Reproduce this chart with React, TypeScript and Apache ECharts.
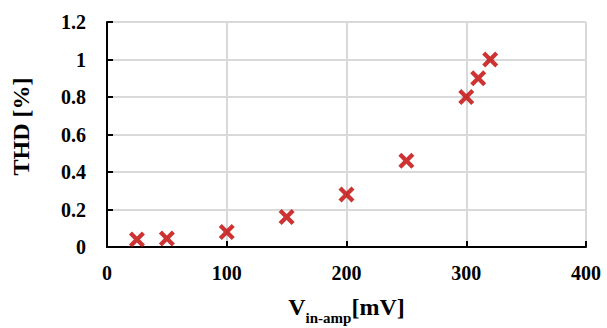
import React, { useEffect, useRef } from "react";
import * as echarts from "echarts";

const vin: number[] = [25, 50, 100, 150, 200, 250, 300, 310, 320];
const thd: number[] = [0.04, 0.045, 0.08, 0.16, 0.28, 0.46, 0.8, 0.9, 1.0];

const crossPath = "path://M0,1.9 L1.9,0 L5,3.1 L8.1,0 L10,1.9 L6.9,5 L10,8.1 L8.1,10 L5,6.9 L1.9,10 L0,8.1 L3.1,5 Z";

export default function App() {
  const ref = useRef<HTMLDivElement>(null);
  useEffect(() => {
    if (!ref.current) return;
    const chart = echarts.init(ref.current, undefined, { renderer: "svg" });
    const font = "'Liberation Serif', 'Times New Roman', serif";
    chart.setOption({
      animation: false,
      backgroundColor: "#ffffff",
      grid: { left: 107, right: 21, top: 22, bottom: 81, containLabel: false, outerBoundsMode: "none" },
      xAxis: {
        type: "value",
        min: 0,
        max: 400,
        interval: 100,
        axisLine: { show: true, onZero: false, lineStyle: { color: "#000", width: 2 } },
        axisTick: { show: true, inside: true, length: 6, lineStyle: { color: "#000", width: 2 } },
        splitLine: { show: true, lineStyle: { color: "#d9d9d9", width: 2 } },
        axisLabel: { margin: 16, color: "#000", fontFamily: font, fontWeight: "bold", fontSize: 20 },
        name: "{v|V}{s|in-amp}{v|[mV]}",
        nameLocation: "middle",
        nameGap: 42,
        nameTextStyle: {
          rich: {
            v: { fontFamily: font, fontWeight: "bold", fontSize: 24, color: "#000", verticalAlign: "bottom", lineHeight: 30 },
            s: { fontFamily: font, fontWeight: "bold", fontSize: 15, color: "#000", verticalAlign: "bottom", lineHeight: 30, padding: [0, 0, -6, 0] },
          },
        },
      },
      yAxis: {
        type: "value",
        min: 0,
        max: 1.2,
        interval: 0.2,
        axisLine: { show: true, onZero: false, lineStyle: { color: "#000", width: 2 } },
        axisTick: { show: true, inside: true, length: 6, lineStyle: { color: "#000", width: 2 } },
        splitLine: { show: true, lineStyle: { color: "#d9d9d9", width: 2 } },
        axisLabel: { margin: 21, color: "#000", fontFamily: font, fontWeight: "bold", fontSize: 20 },
        name: "THD [%]",
        nameLocation: "middle",
        nameGap: 74,
        nameTextStyle: { fontFamily: font, fontWeight: "bold", fontSize: 24, color: "#000", padding: [0, 0, 0, 16] },
      },
      series: [
        {
          type: "scatter",
          data: vin.map((x, i) => [x, thd[i]]),
          symbol: crossPath,
          symbolSize: 16,
          itemStyle: { color: "#c00000" },
        },
      ],
    });
    return () => chart.dispose();
  }, []);
  return <div ref={ref} style={{ width: 607, height: 328, position: "absolute", left: 0, top: 0 }} />;
}
